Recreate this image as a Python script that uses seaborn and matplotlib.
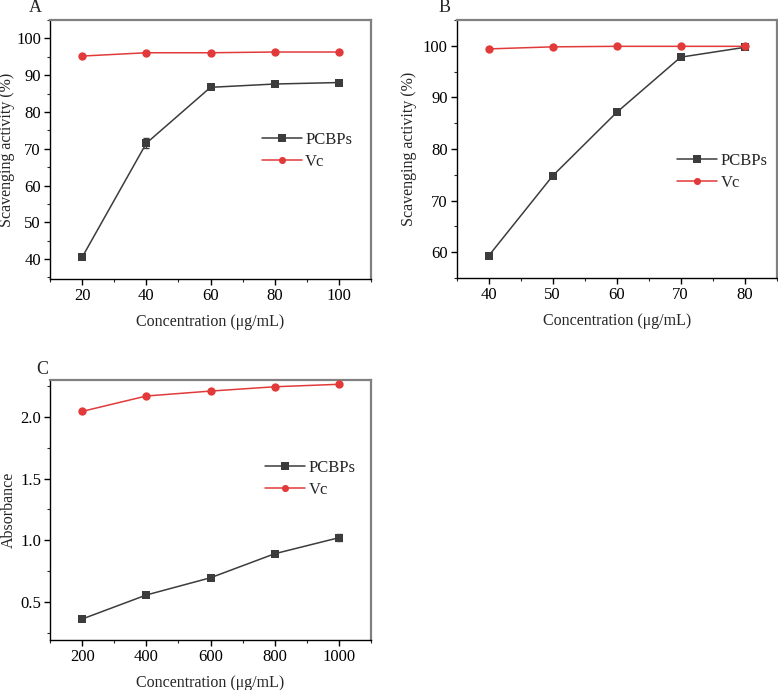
import numpy as np
import pandas as pd
import seaborn as sns
import matplotlib.pyplot as plt
from matplotlib.ticker import MultipleLocator, AutoMinorLocator

# Panel A data
conc_a = [20, 40, 60, 80, 100]
pcbps_a = [40.5, 71.5, 86.7, 87.6, 88.0]
pcbps_a_err = [0.6, 1.4, 0.4, 0.4, 0.3]
vc_a = [95.2, 96.1, 96.1, 96.3, 96.3]
vc_a_err = [0.3, 0.2, 0.2, 0.2, 0.2]

# Panel B data
conc_b = [40, 50, 60, 70, 80]
pcbps_b = [59.3, 74.8, 87.1, 97.8, 99.7]
pcbps_b_err = [0.3, 0.3, 0.3, 0.3, 0.2]
vc_b = [99.4, 99.8, 99.9, 99.9, 99.9]
vc_b_err = [0.1, 0.1, 0.1, 0.1, 0.1]

# Panel C data
conc_c = [200, 400, 600, 800, 1000]
pcbps_c = [0.36, 0.555, 0.695, 0.89, 1.02]
pcbps_c_err = [0.01, 0.01, 0.01, 0.015, 0.03]
vc_c = [2.045, 2.17, 2.21, 2.245, 2.265]
vc_c_err = [0.012, 0.008, 0.008, 0.008, 0.008]

sns.set_style("ticks")
plt.rcParams['font.family'] = ['Liberation Serif', 'DejaVu Serif']

colors = {'PCBPs': '#3c3c3c', 'Vc': '#e23a3a'}
markers = {'PCBPs': 's', 'Vc': 'o'}

fig = plt.figure(figsize=(7.78, 6.9), dpi=100)
axA = fig.add_axes([0.0643, 0.5957, 0.4126, 0.3753])
axB = fig.add_axes([0.5870, 0.5971, 0.4113, 0.3739])
axC = fig.add_axes([0.0643, 0.0725, 0.4126, 0.3768])


def panel(ax, x, p, pe, v, ve, ylabel, xlim, ylim, xmaj, ymaj, leg_xy, ypad):
    df = pd.DataFrame({
        'conc': list(x) * 2,
        'val': list(p) + list(v),
        'err': list(pe) + list(ve),
        'sample': ['PCBPs'] * len(x) + ['Vc'] * len(x),
    })
    for name, sub in df.groupby('sample'):
        ax.errorbar(sub['conc'], sub['val'], yerr=sub['err'], fmt='none',
                    ecolor=colors[name], elinewidth=1, capsize=2.5, zorder=2)
    sns.lineplot(data=df, x='conc', y='val', hue='sample', style='sample',
                 palette=colors, markers=markers, dashes=False, ax=ax,
                 markersize=6, markeredgewidth=0, linewidth=1.1, zorder=3)
    ax.set_xlim(*xlim)
    ax.set_ylim(*ylim)
    ax.xaxis.set_major_locator(MultipleLocator(xmaj))
    ax.yaxis.set_major_locator(MultipleLocator(ymaj))
    ax.xaxis.set_minor_locator(AutoMinorLocator(2))
    ax.yaxis.set_minor_locator(AutoMinorLocator(2))
    ax.tick_params(which='major', direction='out', length=4, width=1,
                   pad=2.5, labelsize=12, colors='black')
    ax.tick_params(which='minor', direction='out', length=2.5, width=0.8)
    for s in ['left', 'bottom']:
        ax.spines[s].set_color('black')
        ax.spines[s].set_linewidth(1)
    for s in ['top', 'right']:
        ax.spines[s].set_visible(True)
        ax.spines[s].set_color('#808080')
        ax.spines[s].set_linewidth(1.6)
    ax.set_xlabel('Concentration (μg/mL)', fontsize=11.5, labelpad=7)
    ax.set_ylabel(ylabel, fontsize=11.5, labelpad=ypad)
    ax.legend(title=None, frameon=False, loc='center left',
              bbox_to_anchor=leg_xy, fontsize=12, borderaxespad=0,
              borderpad=0, handlelength=2.4, handletextpad=0.2,
              labelspacing=0.35, markerscale=0.85)


panel(axA, conc_a, pcbps_a, pcbps_a_err, vc_a, vc_a_err,
      'Scavenging activity (%)', (10, 110), (34.6, 105), 20, 10,
      (0.66, 0.494), 1)
panel(axB, conc_b, pcbps_b, pcbps_b_err, vc_b, vc_b_err,
      'Scavenging activity (%)', (35, 85), (55, 105), 10, 10,
      (0.69, 0.411), 4)
panel(axC, conc_c, pcbps_c, pcbps_c_err, vc_c, vc_c_err,
      'Absorbance', (100, 1100), (0.19, 2.30), 200, 0.5, (0.67, 0.619), 2)
axC.yaxis.set_major_formatter(plt.FormatStrFormatter('%.1f'))

fig.text(35 / 778, 1 - 8 / 690, 'A', fontsize=13, ha='center', va='center')
fig.text(445 / 778, 1 - 8 / 690, 'B', fontsize=13, ha='center', va='center')
fig.text(42 / 778, 1 - 369 / 690, 'C', fontsize=13, ha='center', va='center')

fig.savefig('out.png', dpi=100)
